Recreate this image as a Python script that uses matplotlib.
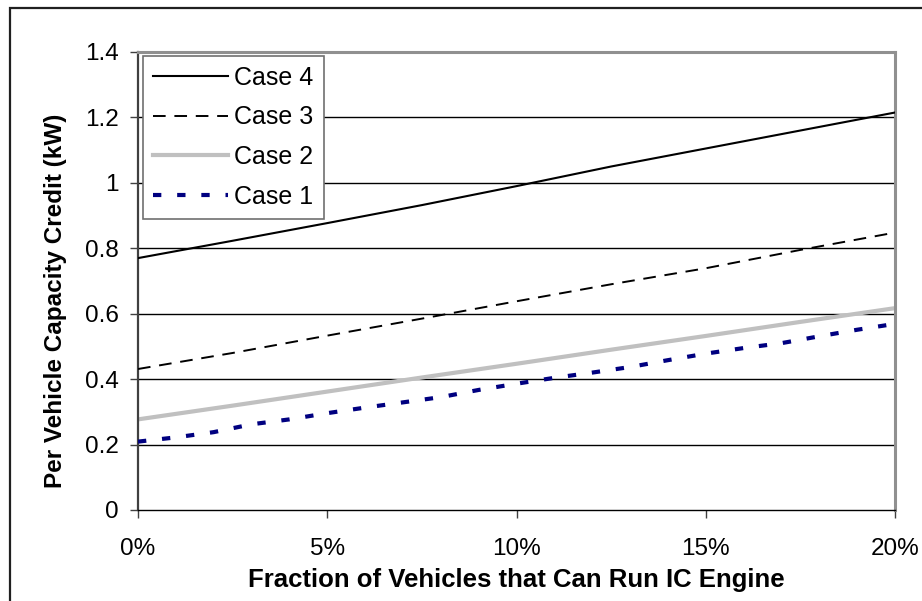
import matplotlib
matplotlib.use('Agg')
import matplotlib.pyplot as plt
from matplotlib.patches import Rectangle
from matplotlib.ticker import FuncFormatter

plt.rcParams['font.family'] = ['Liberation Sans', 'DejaVu Sans']

# fraction of vehicles (%) and capacity credit (kW)
frac_coarse = [0, 2.5, 5, 7.5, 10, 12.5, 15, 17.5, 20]
case4 = [0.770, 0.823, 0.877, 0.932, 0.990, 1.050, 1.105, 1.160, 1.215]
case3 = [0.431, 0.480, 0.533, 0.585, 0.638, 0.690, 0.739, 0.795, 0.848]
case2 = [0.277, 0.319, 0.362, 0.405, 0.447, 0.490, 0.532, 0.575, 0.617]

frac_fine = list(range(0, 21))
case1 = [0.209, 0.222, 0.238, 0.262, 0.277, 0.296, 0.313, 0.329, 0.345, 0.367,
         0.386, 0.404, 0.420, 0.437, 0.458, 0.478, 0.495, 0.510, 0.531, 0.551,
         0.569]

fig = plt.figure(figsize=(9.22, 6.01), dpi=100)
W, H = 922, 601
ax = fig.add_axes([138 / W, 1 - 510 / H, (895 - 138) / W, (510 - 52) / H])

# outer chart frame (runs off the right and bottom edges)
fig.patches.append(Rectangle((10 / W, -0.05), 1.0, 1 - 8 / H + 0.05,
                             transform=fig.transFigure, fill=False,
                             edgecolor='#202020', linewidth=1.6))

for y in [0.2, 0.4, 0.6, 0.8, 1.0, 1.2]:
    ax.axhline(y, color='black', linewidth=1.0, zorder=1)

ax.plot(frac_coarse, case4, color='black', linewidth=1.5, label='Case 4', zorder=3)
ax.plot(frac_coarse, case3, color='black', linewidth=1.4,
        linestyle=(0, (6.5, 4.5)), label='Case 3', zorder=3)
ax.plot(frac_coarse, case2, color='#c0c0c0', linewidth=3.0, label='Case 2', zorder=2)
ax.plot(frac_fine, case1, color='#000080', linewidth=3.0,
        linestyle=(0, (2.0, 3.8)), dash_capstyle='butt', label='Case 1', zorder=3)

ax.set_xlim(0, 20)
ax.set_ylim(0, 1.4)
ax.set_xticks([0, 5, 10, 15, 20])
ax.set_yticks([0, 0.2, 0.4, 0.6, 0.8, 1.0, 1.2, 1.4])
ax.xaxis.set_major_formatter(FuncFormatter(lambda v, p: '%d%%' % v))
ax.yaxis.set_major_formatter(FuncFormatter(lambda v, p: '%g' % round(v, 1)))
ax.tick_params(axis='both', labelsize=17.5, length=6, width=1, color='#404040',
               direction='out')
ax.tick_params(axis='x', pad=14)
ax.tick_params(axis='y', pad=8)

ax.spines['left'].set_color('#404040')
ax.spines['left'].set_linewidth(1.6)
ax.spines['bottom'].set_color('black')
ax.spines['bottom'].set_linewidth(1.0)
ax.spines['top'].set_color('#909090')
ax.spines['top'].set_linewidth(2.2)
ax.spines['right'].set_color('#909090')
ax.spines['right'].set_linewidth(2.2)

ax.set_xlabel('Fraction of Vehicles that Can Run IC Engine', fontsize=18.5,
              fontweight='bold', labelpad=6)
ax.set_ylabel('Per Vehicle Capacity Credit (kW)', fontsize=17.5,
              fontweight='bold', labelpad=13, y=0.456)

leg = ax.legend(loc='upper left', bbox_to_anchor=(143 / W, 1 - 56 / H),
                bbox_transform=fig.transFigure, borderaxespad=0,
                fontsize=18, frameon=True, fancybox=False, framealpha=1,
                handlelength=3.0, handletextpad=0.25, labelspacing=0.62,
                borderpad=0.4)
leg.get_frame().set_edgecolor('#707070')
leg.get_frame().set_linewidth(1.2)

fig.savefig('out.png', dpi=100)
